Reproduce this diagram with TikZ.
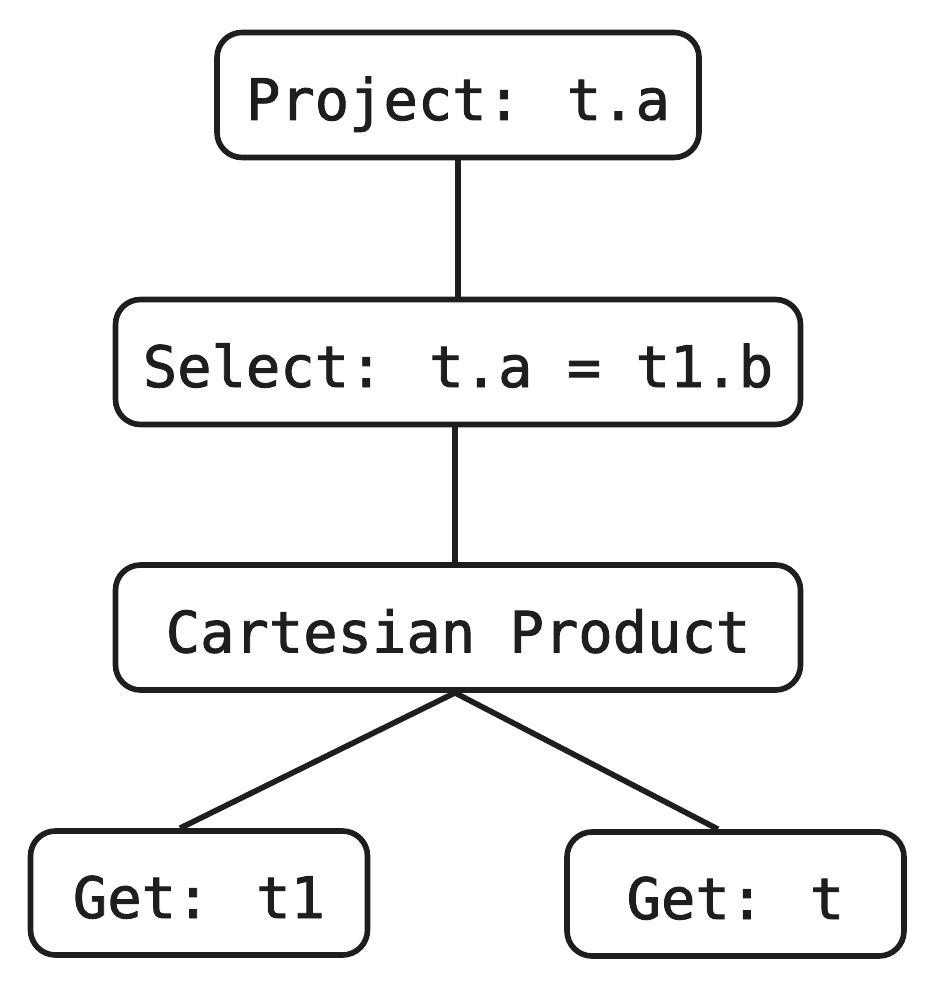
\documentclass[tikz,border=0pt]{standalone}
\usepackage{fontspec}
\newfontfamily\opfont[FakeBold=1.6]{DejaVu Sans Mono}
\usepackage{tikz}
\usetikzlibrary{positioning,calc}
\definecolor{inkgray}{RGB}{30,30,30}

\begin{document}
\begin{tikzpicture}[
    opbox/.style={rectangle, draw=inkgray, line width=3.2pt, rounded corners=0.5cm,
                  minimum height=2.5cm, align=center, text=inkgray,
                  text height=1.2cm, text depth=0.2cm,
                  font=\fontsize{32.5}{40}\selectfont\opfont, inner sep=0pt},
    edge/.style={draw=inkgray, line width=3.2pt}
]
    \useasboundingbox (0,0) rectangle (18.68,-19.78);

    \node[opbox, minimum width=9.64cm] (project) at (9.16,-1.9) {Project: t.a};
    \node[opbox, minimum width=13.7cm] (select) at (9.16,-7.24) {Select: t.a = t1.b};
    \node[opbox, minimum width=13.7cm] (cart) at (9.16,-12.55) {Cartesian Product};
    \node[opbox, minimum width=6.74cm, minimum height=2.48cm] (getleft) at (3.98,-17.86) {Get: t1};
    \node[opbox, minimum width=6.74cm, minimum height=2.48cm] (getright) at (14.71,-17.88) {Get: t};

    \draw[edge] (project.south) -- (select.north);
    \draw[edge] ([xshift=-0.06cm]select.south) -- ([xshift=-0.06cm]cart.north);
    \draw[edge] ([xshift=-0.06cm]cart.south) -- ([xshift=-0.38cm]getleft.north);
    \draw[edge] ([xshift=-0.06cm]cart.south) -- ([xshift=-0.35cm]getright.north);
\end{tikzpicture}
\end{document}
